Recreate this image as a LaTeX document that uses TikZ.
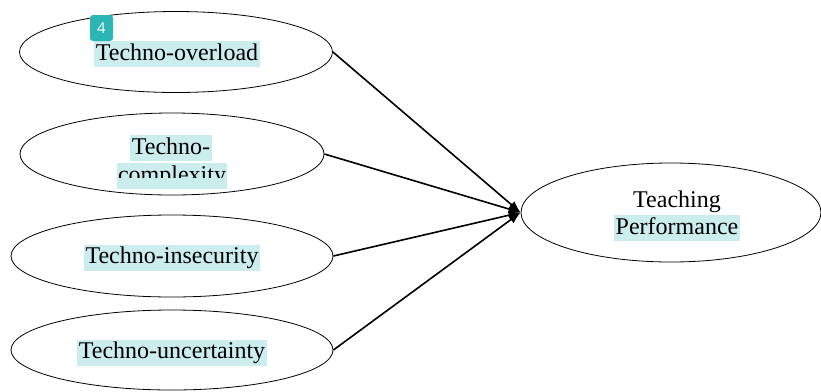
\documentclass[tikz,border=0pt]{standalone}
\usepackage{fontspec}
\setmainfont{Liberation Serif}
\newfontfamily\badgefont{Open Sans}
\usetikzlibrary{shapes.geometric,arrows.meta}
\definecolor{hlcyan}{HTML}{CCEDED}
\definecolor{badgeteal}{HTML}{2BB5B5}

\begin{document}
\begin{tikzpicture}[x=1pt,y=-1pt,
    construct/.style={draw,ellipse,line width=0.8pt,inner sep=0pt},
    hltext/.style={fill=hlcyan,inner xsep=1.5pt,inner ysep=0pt,text height=19pt,text depth=7pt,font=\fontsize{24}{28}\selectfont},
    plaintext/.style={inner sep=0pt,text height=19pt,text depth=7pt,font=\fontsize{24}{28}\selectfont},
    effect/.style={line width=1.6pt,-{Latex[length=12pt,width=9pt]}}]
    \useasboundingbox (0,0) rectangle (821,391);
    % the four constructs on the left
    \node[construct,minimum width=313pt,minimum height=81pt] (over) at (176,52) {};
    \node[construct,minimum width=304pt,minimum height=82pt] (cplx) at (172,154) {};
    \node[construct,minimum width=322pt,minimum height=82pt] (insec) at (172,256) {};
    \node[construct,minimum width=322pt,minimum height=80pt] (uncert) at (172,350) {};
    % outcome
    \node[construct,minimum width=300pt,minimum height=99pt] (perf) at (671,212.5) {};
    % labels
    \node[hltext] (over-txt) at (177,54) {Techno-overload};
    \node[hltext] (cplx-txt) at (171,148) {Techno-};
    \node[hltext] (cplx-bg) at (172,176) {\phantom{complexity}};
    \begin{scope}
    \clip (100,160) rectangle (240,177);
    \node[plaintext] (cplx-txt2) at (cplx-bg) {complexity};
    \end{scope}
    \node[hltext] (insec-txt) at (172,257.5) {Techno-insecurity};
    \node[hltext] (uncert-txt) at (172,352.5) {Techno-uncertainty};
    \node[plaintext] (teach-txt) at (677,201) {Teaching};
    \node[hltext] (perf-txt) at (677,228) {Performance};
    % badge
    \node[fill=badgeteal,rounded corners=3pt,minimum width=23pt,minimum height=26pt,inner sep=0pt,
      text=white,font=\badgefont\fontsize{15}{17}\selectfont] (num) at (101.5,28) {4};
    % paths
    \foreach \src in {over,cplx,insec,uncert}
    \draw[effect] (\src.east) -- (perf.west);
\end{tikzpicture}
\end{document}
